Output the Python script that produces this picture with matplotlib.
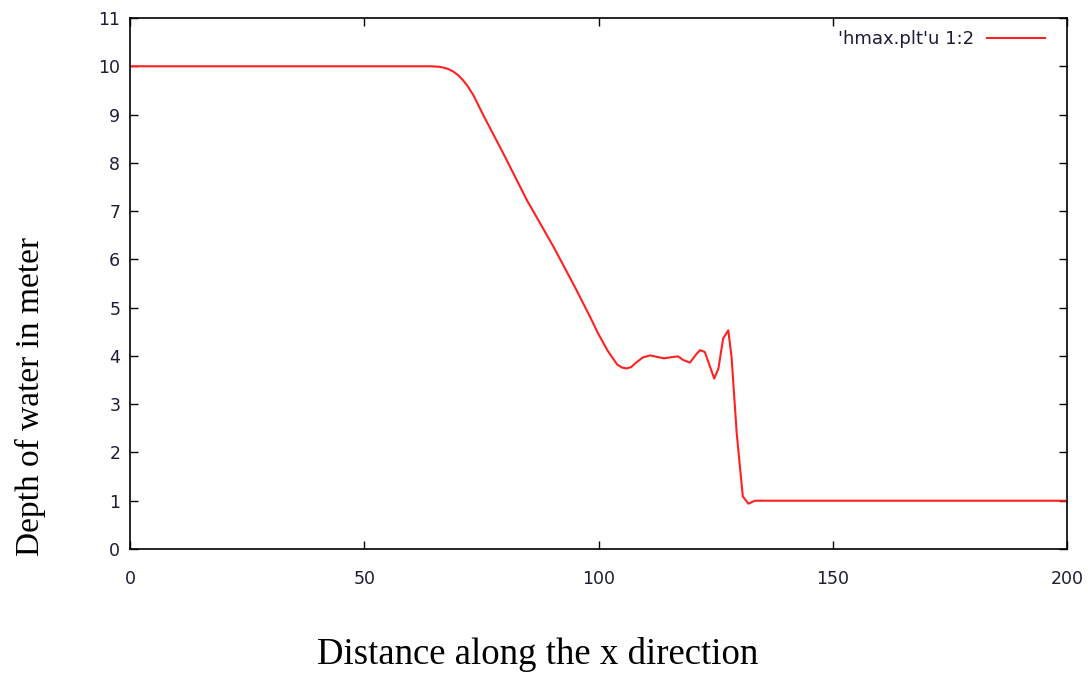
import numpy as np
import matplotlib.pyplot as plt

# hmax profile along x (columns 1:2 of hmax.plt)
x_pos = [0, 64, 66, 67, 68, 69, 70, 71, 72, 73.3, 75.4, 79.7, 84.7, 90.4, 95, 98.2,
         100, 102, 104, 105, 106, 107, 108, 109.5, 111, 112.5, 114, 116, 117, 118,
         119.5, 121, 121.7, 122.7, 124.7, 125.6, 126.6, 127.7, 128.4, 129.5,
         130.8, 132, 133.4, 200]
depth = [10, 10, 9.99, 9.97, 9.94, 9.89, 9.82, 9.72, 9.6, 9.4, 8.99, 8.19, 7.23,
         6.26, 5.42, 4.81, 4.45, 4.1, 3.82, 3.76, 3.74, 3.77, 3.86, 3.97, 4.01,
         3.98, 3.95, 3.98, 3.99, 3.92, 3.86, 4.05, 4.12, 4.08, 3.53, 3.74, 4.36,
         4.53, 3.98, 2.4, 1.09, 0.94, 1.0, 1.0]

fig = plt.figure(figsize=(10.88, 6.75), dpi=100)
ax = fig.add_axes([130 / 1088, 126 / 675, 937 / 1088, 531 / 675])

ax.plot(x_pos, depth, color='#ff2020', lw=1.5, label="'hmax.plt'u 1:2")

ax.set_xlim(0, 200)
ax.set_ylim(0, 11)
ax.set_xticks(np.arange(0, 201, 50))
ax.set_yticks(np.arange(0, 12, 1))
ax.tick_params(direction='in', top=True, right=True, length=6, width=1,
               labelsize=12.5, labelcolor='#1c1c38')
ax.tick_params(axis='x', pad=15)
ax.tick_params(axis='y', pad=7)
for s in ax.spines.values():
    s.set_linewidth(1.2)

leg = ax.legend(loc='center right', bbox_to_anchor=(0.9765, 0.9605),
                frameon=False, markerfirst=False, handlelength=3.2,
                handletextpad=0.7, borderpad=0, borderaxespad=0,
                fontsize=13)
for t in leg.get_texts():
    t.set_color('#1c1c38')

fig.text(538 / 1088, 1 - 654 / 675, 'Distance along the x direction',
         family='Liberation Serif', fontsize=26.5, ha='center', va='center')
fig.text(30 / 1088, 1 - 396 / 675, 'Depth of water in meter',
         family='Liberation Serif', fontsize=24, ha='center', va='center',
         rotation=90)

fig.savefig('out.png', dpi=100)
